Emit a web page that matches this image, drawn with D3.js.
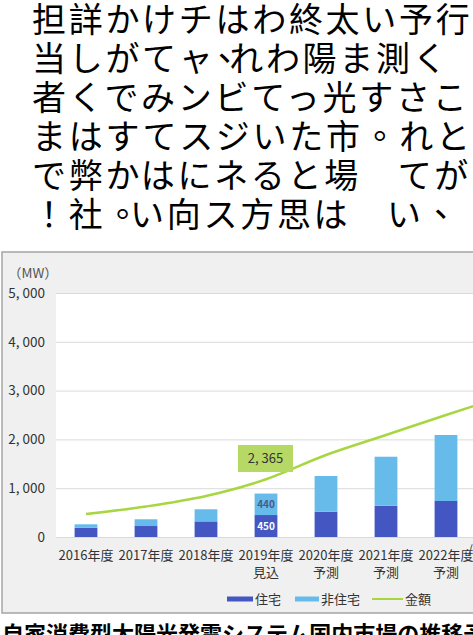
<!DOCTYPE html>
<html>
<head>
<meta charset="utf-8">
<script src="https://cdn.jsdelivr.net/npm/d3@7"></script>
<style>
  html, body { margin: 0; padding: 0; background: #fff; overflow: hidden; }
  svg { display: block; }
</style>
</head>
<body>
<div id="chart"></div>
<script>
// body text above the chart, as [segment, dx] runs per line
const bodyLines = [
  [['担詳かけチはわ終太い予行', 0]],
  [['当しがてャ', 0], ['、', -8], ['れわ陽ま測く', -15]],
  [['者くでみンビてっ光すさこ', 0]],
  [['まはすてスジいた市。れと', 0]],
  [['で弊かはにネると場　てが', 0]],
  [['！社。', 0], ['い向ス方思は　い、', -12]]
];

// chart data (MW, amount on hidden right axis)
const categories = ['2016年度', '2017年度', '2018年度', '2019年度', '2020年度', '2021年度', '2022年度', '2030年度'];
const subLabels = ['', '', '', '見込', '予測', '予測', '予測', '予測'];
const residential = [190, 225, 320, 450, 518, 641, 738, 1000];
const nonResidential = [70, 138, 248, 440, 732, 1004, 1352, 2600];
const amount = [945, 1250, 1680, 2365, 3360, 4180, 5000, 5800];
const yTicks = [0, 1000, 2000, 3000, 4000, 5000];
const seriesNames = ['住宅', '非住宅', '金額'];
const colors = { '住宅': '#4356c2', '非住宅': '#66bbea', '金額': '#a8d641' };
const caption = '自家消費型太陽光発電システム国内市場の推移予測';

const W = 473, H = 635;
const plot = { left: 56, top: 293, bottom: 537, step: 60 };

const svg = d3.select('#chart').append('svg')
  .attr('width', W).attr('height', H);

// top text
let bodyText = svg.append('g')
  .selectAll('text')
  .data(bodyLines)
  .enter().append('text')
  .attr('x', 32)
  .attr('y', (d, i) => 32 + i * 39)
  .attr('font-family', '"Noto Sans CJK TC"')
  .attr('font-size', 34)
  .attr('letter-spacing', 2.7)
  .attr('fill', '#000');
bodyText.selectAll('tspan')
  .data(d => d)
  .enter().append('tspan')
  .attr('dx', d => d[1])
  .text(d => d[0]);

// chart box
svg.append('rect')
  .attr('x', 2).attr('y', 252)
  .attr('width', 520).attr('height', 361)
  .attr('fill', '#f0f0f0')
  .attr('stroke', '#a5a5a5')
  .attr('stroke-width', 1.5);

let x = d3.scaleBand()
  .domain(categories)
  .range([plot.left, plot.left + plot.step * categories.length])
  .paddingInner(0.62)
  .paddingOuter(0.31);

let y = d3.scaleLinear().domain([0, 5000]).range([plot.bottom, plot.top]);
let yAmount = d3.scaleLinear().domain([0, 10000]).range([plot.bottom, plot.top]);

// plot background
svg.append('rect')
  .attr('x', plot.left).attr('y', y(5000))
  .attr('width', W - plot.left).attr('height', y(0) - y(5000))
  .attr('fill', '#fff');

// grid + y axis
let yAxis = svg.append('g')
  .attr('transform', `translate(${plot.left},0)`)
  .call(d3.axisLeft(y)
    .tickValues(yTicks)
    .tickSize(-(W - plot.left))
    .tickPadding(11)
    .tickFormat(d => d3.format(',')(d).replace(',', ', ')));
yAxis.select('.domain').remove();
yAxis.selectAll('line').attr('stroke', '#dadada');
yAxis.selectAll('text')
  .attr('font-family', '"Noto Sans CJK JP"')
  .attr('font-size', 13.5)
  .attr('fill', '#333');

svg.append('text')
  .attr('x', 8).attr('y', 278)
  .attr('font-family', '"Noto Sans CJK JP"')
  .attr('font-size', 13.5)
  .attr('fill', '#555')
  .text('（MW）');

// stacked bars
let rows = categories.map((c, i) => ({ cat: c, '住宅': residential[i], '非住宅': nonResidential[i] }));
let stack = d3.stack().keys(['住宅', '非住宅'])(rows);

svg.append('g')
  .selectAll('g')
  .data(stack)
  .enter().append('g')
  .attr('fill', d => colors[d.key])
  .selectAll('rect')
  .data(d => d)
  .enter().append('rect')
  .attr('x', d => x(d.data.cat))
  .attr('width', x.bandwidth())
  .attr('y', d => y(d[1]))
  .attr('height', d => y(d[0]) - y(d[1]));

// value labels in the 2019 bar
let i19 = categories.indexOf('2019年度');
let cx19 = x(categories[i19]) + x.bandwidth() / 2;
svg.append('text')
  .attr('x', cx19).attr('y', (y(residential[i19]) + y(residential[i19] + nonResidential[i19])) / 2 + 4)
  .attr('text-anchor', 'middle')
  .attr('font-family', '"Noto Sans CJK JP"')
  .attr('font-size', 10).attr('font-weight', 'bold')
  .attr('fill', '#4a5a8a')
  .text(nonResidential[i19]);
svg.append('text')
  .attr('x', cx19).attr('y', (y(0) + y(residential[i19])) / 2 + 4)
  .attr('text-anchor', 'middle')
  .attr('font-family', '"Noto Sans CJK JP"')
  .attr('font-size', 10).attr('font-weight', 'bold')
  .attr('fill', '#fff')
  .text(residential[i19]);

// amount line
let line = d3.line()
  .x((d, i) => x(categories[i]) + x.bandwidth() / 2)
  .y(d => yAmount(d))
  .curve(d3.curveMonotoneX);

svg.append('path')
  .datum(amount)
  .attr('d', line)
  .attr('fill', 'none')
  .attr('stroke', colors['金額'])
  .attr('stroke-width', 2.5);

// 2019 amount callout
let bx = cx19 - 28, by = 445;
svg.append('rect')
  .attr('x', bx).attr('y', by)
  .attr('width', 55).attr('height', 27)
  .attr('fill', '#b6d865');
svg.append('text')
  .attr('x', bx + 27.5).attr('y', by + 18)
  .attr('text-anchor', 'middle')
  .attr('font-family', '"Noto Sans CJK JP"')
  .attr('font-size', 13)
  .attr('fill', '#333')
  .text(d3.format(',')(amount[i19]).replace(',', ', '));

// x labels
let xl = svg.append('g')
  .selectAll('g')
  .data(categories)
  .enter().append('g')
  .attr('transform', d => `translate(${x(d) + x.bandwidth() / 2},0)`);
xl.append('text')
  .attr('y', 560)
  .attr('text-anchor', 'middle')
  .attr('font-family', '"Noto Sans CJK JP"')
  .attr('font-size', 13)
  .attr('fill', '#333')
  .text(d => d);
xl.append('text')
  .attr('y', 577)
  .attr('text-anchor', 'middle')
  .attr('font-family', '"Noto Sans CJK JP"')
  .attr('font-size', 13)
  .attr('fill', '#333')
  .text((d, i) => subLabels[i]);

// axis break mark
svg.append('text')
  .attr('x', 468).attr('y', 554)
  .attr('font-family', '"Noto Sans CJK JP"')
  .attr('font-size', 12)
  .attr('fill', '#333')
  .text('/');

// legend
let legendX = [227, 295, 372];
let swatchW = [26, 24, 31];
let swatchH = [5, 5, 2];
let lg = svg.append('g')
  .selectAll('g')
  .data(seriesNames)
  .enter().append('g')
  .attr('transform', (d, i) => `translate(${legendX[i]},599)`);
lg.append('rect')
  .attr('x', 0)
  .attr('y', (d, i) => -swatchH[i] / 2)
  .attr('width', (d, i) => swatchW[i])
  .attr('height', (d, i) => swatchH[i])
  .attr('fill', d => colors[d]);
lg.append('text')
  .attr('x', (d, i) => swatchW[i] + 2)
  .attr('y', 5)
  .attr('font-family', '"Noto Sans CJK JP"')
  .attr('font-size', 13)
  .attr('fill', '#333')
  .text(d => d);

// caption
svg.append('text')
  .attr('x', 2).attr('y', 642)
  .attr('font-family', '"Noto Sans CJK JP"')
  .attr('font-size', 22)
  .attr('font-weight', 'bold')
  .attr('fill', '#000')
  .text(caption);
</script>
</body>
</html>
